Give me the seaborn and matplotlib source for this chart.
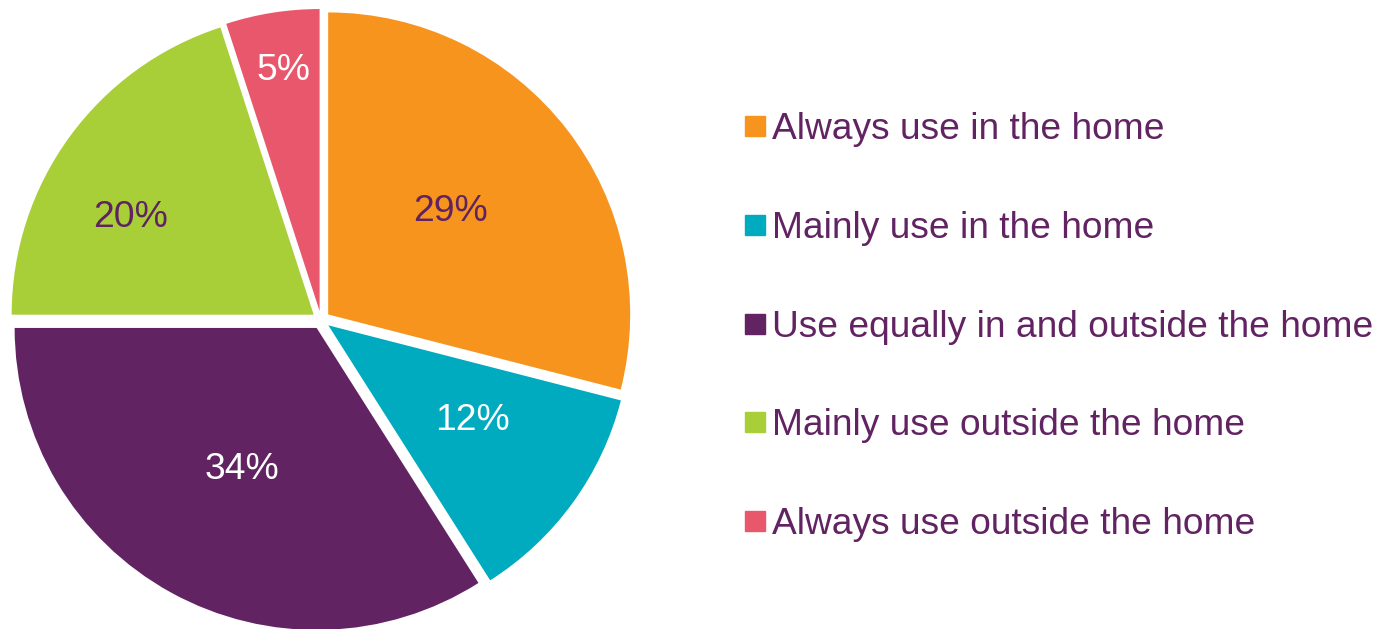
import matplotlib
matplotlib.use("Agg")
import numpy as np
import matplotlib.pyplot as plt
from matplotlib.lines import Line2D
import seaborn as sns

# Where the device is used
categories = [
    "Always use in the home",
    "Mainly use in the home",
    "Use equally in and outside the home",
    "Mainly use outside the home",
    "Always use outside the home",
]
shares = [29, 12, 34, 20, 5]
slice_colors = ["#F7941D", "#00AABF", "#622363", "#A9CF38", "#E8576B"]
label_colors = ["#5E2360", "white", "white", "#5E2360", "white"]
text_color = "#622363"

# label placement inside each wedge: radial distance and angular nudge (deg)
label_dist = [0.53, 0.570, 0.531, 0.687, 0.807]
label_shift = [2.4, 2.6, 1.1, 8.2, -0.4]

sns.set_theme(style="white")
plt.rcParams["font.family"] = ["Liberation Sans", "DejaVu Sans"]

palette = sns.color_palette(slice_colors)

fig = plt.figure(figsize=(13.8, 6.29), dpi=100)
ax = fig.add_axes([0.01377, 0.0111, 0.4377, 0.9603])

wedges, _, autotexts = ax.pie(
    shares,
    colors=palette,
    startangle=90,
    counterclock=False,
    explode=[0.03] * len(shares),
    autopct=lambda p: f"{p:.0f}%",
    pctdistance=0.56,
    wedgeprops=dict(linewidth=0),
    textprops=dict(fontsize=26.8),
)
for w, t, c, d, s in zip(wedges, autotexts, label_colors, label_dist, label_shift):
    ang = np.deg2rad((w.theta1 + w.theta2) / 2 + s)
    cx, cy = w.center
    t.set_position((cx + d * w.r * np.cos(ang), cy + d * w.r * np.sin(ang)))
    t.set_color(c)
    w.set_clip_on(False)

ax.set_xlim(-1, 1)
ax.set_ylim(-1, 1)
ax.set_aspect("equal")
ax.axis("off")

handles = [
    Line2D([0], [0], marker="s", linestyle="none", markersize=14.5,
           markerfacecolor=c, markeredgecolor=c)
    for c in palette
]
leg = fig.legend(
    handles, categories,
    loc="center left",
    bbox_to_anchor=(0.539, 0.480),
    frameon=False,
    fontsize=26.7,
    handlelength=0.6,
    handletextpad=0.15,
    labelspacing=1.72,
    borderaxespad=0,
    borderpad=0,
)
for t in leg.get_texts():
    t.set_color(text_color)

fig.savefig("out.png", dpi=100)
